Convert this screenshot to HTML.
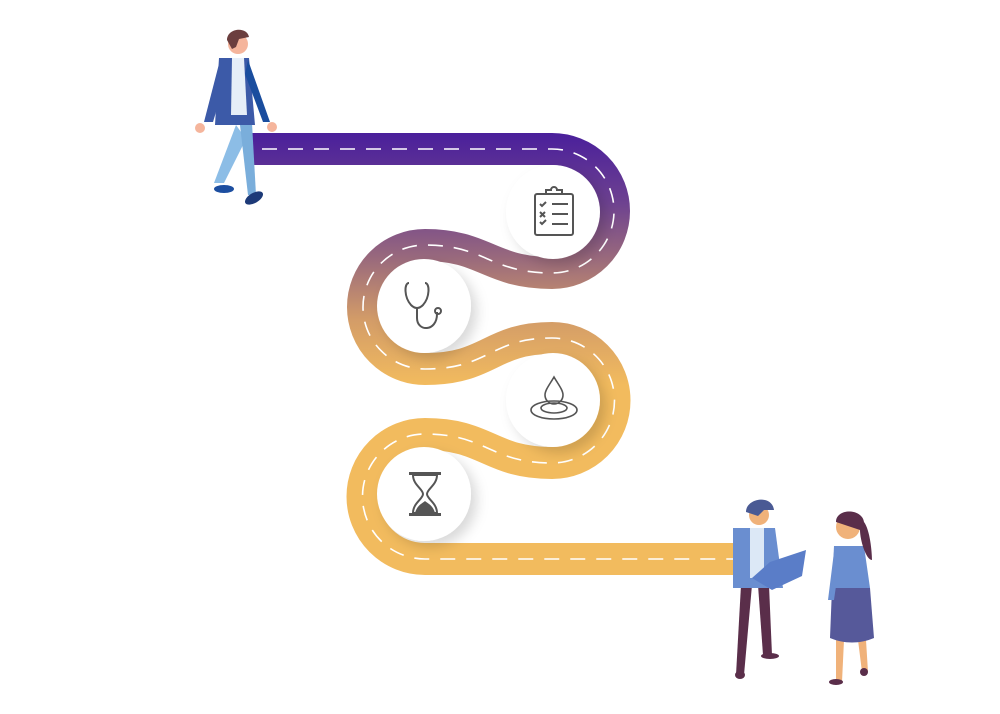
<!DOCTYPE html>
<html><head><meta charset="utf-8"><style>
html,body{margin:0;padding:0;background:#fff;}
svg{display:block}
</style></head><body>
<svg width="1000" height="714" viewBox="0 0 1000 714" xmlns="http://www.w3.org/2000/svg">
<defs>
<linearGradient id="g" gradientUnits="userSpaceOnUse" x1="0" y1="133" x2="0" y2="385">
<stop offset="0" stop-color="#4a1f9b"/>
<stop offset="0.28" stop-color="#6e4290"/>
<stop offset="0.5" stop-color="#9a6a7c"/>
<stop offset="0.74" stop-color="#d39c68"/>
<stop offset="1" stop-color="#f2bb5e"/>
</linearGradient>
<filter id="sh" x="-30%" y="-30%" width="170%" height="170%">
<feDropShadow dx="6" dy="6" stdDeviation="6" flood-color="#000" flood-opacity="0.15"/>
</filter>
</defs>
<path d="M245,149 H552 A62,62 0 0 1 552,273 C490,273 485,245 425,245 A62,62 0 0 0 425,369 C490,369 490,338 552,338 A62.5,62.5 0 0 1 552,463 C490,463 487,434 425,434 A62.5,62.5 0 0 0 425,559 H745" fill="none" stroke="url(#g)" stroke-width="32"/>
<path d="M262,149 H552 A62,62 0 0 1 552,273 C490,273 485,245 425,245 A62,62 0 0 0 425,369 C490,369 490,338 552,338 A62.5,62.5 0 0 1 552,463 C490,463 487,434 425,434 A62.5,62.5 0 0 0 425,559 H740" fill="none" stroke="#fff" stroke-width="1.6" stroke-dasharray="15 11"/>
<g fill="#fff" filter="url(#sh)">
<circle cx="553" cy="212" r="47"/>
<circle cx="424" cy="306" r="47"/>
<circle cx="553" cy="400" r="47"/>
<circle cx="424" cy="494" r="47"/>
</g>
<g fill="none" stroke="#555" stroke-width="2">
<rect x="535" y="194" width="38" height="41" rx="2"/>
<path d="M546,194 v-4 h5 a3,3 0 0 1 6,0 h5 v4"/>
<path d="M540,204 l2,2 4,-4 M540,212 l5,5 M545,212 l-5,5 M540,222 l2,2 4,-4"/>
<path d="M552,204 h16 M552,214 h16 M552,224 h16"/>
</g>
<g fill="none" stroke="#555" stroke-width="2">
<path d="M409,283 c-5,0 -5,14 2,22 c4,4 8,4 12,0 c7,-8 7,-22 2,-22"/>
<path d="M417,308 v10 c0,14 20,14 20,-4 v-2"/>
<circle cx="438" cy="311" r="3"/>
</g>
<g fill="none" stroke="#555" stroke-width="1.6">
<path d="M554,377 c-4,7 -9,13 -9,18 a9,9 0 0 0 18,0 c0,-5 -5,-11 -9,-18z"/>
<ellipse cx="554" cy="410" rx="23" ry="9"/>
<ellipse cx="554" cy="408" rx="13" ry="5"/>
</g>
<g fill="#555">
<rect x="409" y="472" width="32" height="3"/>
<rect x="409" y="513" width="32" height="3"/>
<path d="M413,475 h24 c0,10 -10,14 -10,19 c0,5 10,9 10,19 h-24 c0,-10 10,-14 10,-19 c0,-5 -10,-9 -10,-19z" fill="none" stroke="#555" stroke-width="2"/>
<path d="M415,513 c2,-8 8,-10 10,-12 c2,2 8,4 10,12z"/>
</g>
<g>
<path d="M236,125 l-22,58 h10 l22,-44z" fill="#8cbde6"/>
<path d="M240,125 l8,70 h8 l-4,-72z" fill="#7aaedb"/>
<ellipse cx="224" cy="189" rx="10" ry="4" fill="#1c4ea0"/>
<ellipse cx="254" cy="198" rx="10" ry="5" fill="#1d3a78" transform="rotate(-30 254 198)"/>
<path d="M219,58 h30 l6,67 h-40z" fill="#3c5aa8"/>
<path d="M232,58 h12 l3,57 h-16z" fill="#e6eef8"/>
<path d="M220,60 l-16,62 h9 l15,-50z" fill="#3c5aa8"/>
<path d="M248,60 l22,62 h-7 l-18,-48z" fill="#1a4d9e"/>
<circle cx="200" cy="128" r="5" fill="#f5b59c"/>
<circle cx="272" cy="127" r="5" fill="#f5b59c"/>
<circle cx="238" cy="44" r="10" fill="#f5b59c"/>
<path d="M227,40 c0,-12 20,-14 22,-3 l-10,2 -3,8 -4,2z" fill="#6b3e3e"/>
</g>
<g>
<path d="M741,585 l-5,90 h8 l8,-90z" fill="#5a2e4a"/>
<path d="M758,585 l5,70 h9 l-3,-70z" fill="#5a2e4a"/>
<ellipse cx="740" cy="675" rx="5" ry="4" fill="#5a2e4a"/>
<ellipse cx="770" cy="656" rx="9" ry="3" fill="#5a2e4a"/>
<path d="M733,528 h42 l8,60 h-50z" fill="#6a8ed0"/>
<path d="M750,528 h14 v50 h-14z" fill="#dce8f6"/>
<path d="M752,578 l18,-16 l36,-12 l-4,26 l-30,14z" fill="#5a7dc8"/>
<circle cx="759" cy="515" r="10" fill="#f0b27a"/>
<path d="M746,512 c0,-14 26,-18 28,-2 l-10,0 -6,6z" fill="#4a5a94"/>
</g>
<g>
<path d="M836,640 l0,42 h6 l2,-42z M858,640 l4,32 h6 l-2,-32z" fill="#f0b27a"/>
<ellipse cx="836" cy="682" rx="7" ry="3" fill="#5a2e4a"/>
<ellipse cx="864" cy="672" rx="4" ry="4" fill="#5a2e4a"/>
<path d="M834,546 h30 l6,42 h-38z" fill="#6a8ed0"/>
<path d="M832,588 h38 l4,50 c-14,6 -30,6 -44,0z" fill="#56599a"/>
<circle cx="848" cy="527" r="12" fill="#f0b27a"/>
<path d="M836,522 c0,-14 26,-14 28,0 c6,8 8,30 8,38 c-6,0 -12,-20 -12,-30z" fill="#5a2e4a"/>
<path d="M834,552 l-6,48 h6 l6,-42z" fill="#6a8ed0"/>
</g>
</svg>
</body></html>
